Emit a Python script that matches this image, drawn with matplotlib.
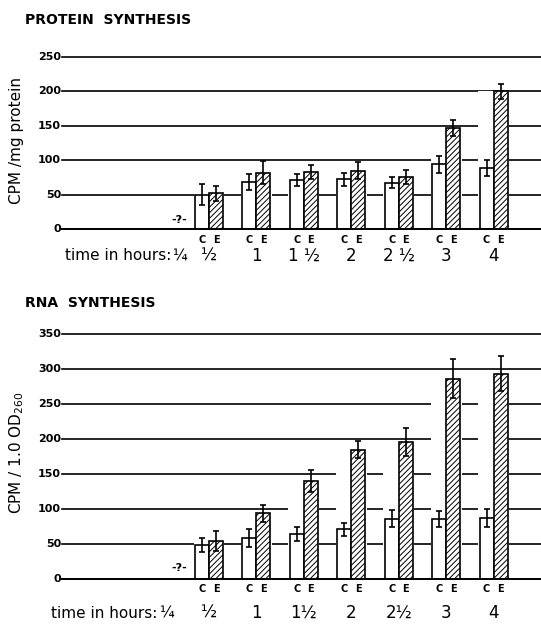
import matplotlib
matplotlib.use("Agg")
import matplotlib.pyplot as plt
import numpy as np

plt.rcParams['font.family'] = ['DejaVu Sans']
plt.rcParams['hatch.linewidth'] = 0.7

groups_top = ["½", "1", "1 ½", "2", "2 ½", "3", "4"]
groups_bot = ["½", "1", "1½", "2", "2½", "3", "4"]

prot_C = [50, 68, 71, 72, 67, 94, 89]
prot_C_err = [15, 12, 9, 9, 8, 12, 12]
prot_E = [52, 82, 83, 85, 76, 147, 200]
prot_E_err = [11, 17, 10, 12, 10, 12, 11]

rna_C = [48, 59, 65, 71, 86, 86, 87]
rna_C_err = [10, 13, 10, 9, 12, 11, 13]
rna_E = [54, 94, 140, 185, 196, 286, 293]
rna_E_err = [14, 12, 16, 12, 20, 28, 25]

prot_ticks = [0, 50, 100, 150, 200, 250]
rna_ticks = [0, 50, 100, 150, 200, 250, 300, 350]

W, H = 541, 624
fig = plt.figure(figsize=(W/100, H/100), dpi=100)

def px_axes(left, top_px, bottom_px):
    return fig.add_axes([left/W, 1 - bottom_px/H, (W-left)/W, (bottom_px-top_px)/H])

def xfig(ax, xd):
    return ax.transData.transform((xd, 0))[0] / W

def panel(ax, C, Ce, E, Ee, ticks, labels, title, title_y, ce_y, lab_y, q_val, quarter_x, tih_right):
    x = np.arange(len(C))
    bw = 0.295
    ymax = ticks[-1]
    ax.set_xlim(-3.10, 7.0)
    ax.set_ylim(0, ymax)
    ax.axis('off')
    for t in ticks:
        ax.axhline(t, color='black', lw=1.2, zorder=1, clip_on=False)
    # white gaps in grid lines around bar groups
    tops = np.maximum(C, E)
    ax.bar(x, tops, width=2*bw + 0.06, color='white', edgecolor='none', zorder=2)
    ax.bar(x - bw/2, C, width=bw, color='white', edgecolor='black', lw=1.2, zorder=3)
    ax.bar(x + bw/2, E, width=bw, color='white', edgecolor='black', lw=1.2,
           hatch='//////', zorder=3)
    ax.errorbar(x - bw/2, C, yerr=Ce, fmt='none', ecolor='black', elinewidth=1.2,
                capsize=2.5, capthick=1.2, zorder=4)
    ax.errorbar(x + bw/2, E, yerr=Ee, fmt='none', ecolor='black', elinewidth=1.2,
                capsize=2.5, capthick=1.2, zorder=4)
    ax.axhline(0, color='black', lw=1.4, zorder=5, clip_on=False)
    for t in ticks:
        ax.text(-3.12, t, str(t), ha='right', va='center', fontsize=8,
                fontweight='bold')
    for i in x:
        fig.text(xfig(ax, i - bw/2), 1 - ce_y/H, "C", ha='center', va='center',
                 fontsize=7, fontweight='bold')
        fig.text(xfig(ax, i + bw/2), 1 - ce_y/H, "E", ha='center', va='center',
                 fontsize=7, fontweight='bold')
    ax.text(-0.62, q_val, "-?-", ha='center', va='center', fontsize=8, fontweight='bold')
    for i, lab in zip(x, labels):
        fig.text(xfig(ax, i), 1 - lab_y/H, lab, ha='center', va='center', fontsize=12)
    fig.text(tih_right/W, 1 - lab_y/H, "time in hours:", ha='right', va='center', fontsize=11)
    fig.text(quarter_x/W, 1 - lab_y/H, "¼", ha='center', va='center', fontsize=11)
    fig.text(25/W, 1 - title_y/H, title, ha='left', va='center', fontsize=10,
             fontweight='bold')
    return ax

ax1 = px_axes(62, 57, 229)
panel(ax1, prot_C, prot_C_err, prot_E, prot_E_err, prot_ticks, groups_top,
      "PROTEIN  SYNTHESIS", 20, 240, 256, 13, 179, 171)
fig.text(17/W, 1 - 140/H, "CPM /mg protein", rotation=90, ha='center', va='center',
         fontsize=11)

ax2 = px_axes(62, 334, 579)
panel(ax2, rna_C, rna_C_err, rna_E, rna_E_err, rna_ticks, groups_bot,
      "RNA  SYNTHESIS", 303, 589, 613, 16, 166, 157)
fig.text(17/W, 1 - 453/H, "CPM / 1.0 OD$_{260}$", rotation=90, ha='center', va='center',
         fontsize=11)

fig.savefig("out.png", dpi=100)
